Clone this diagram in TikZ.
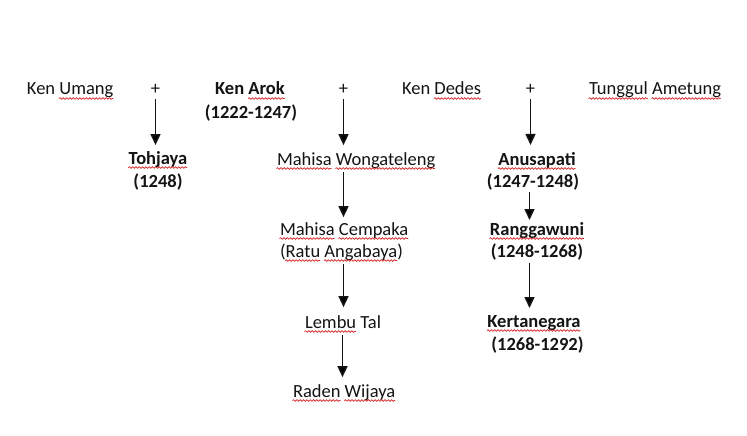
\documentclass[tikz,border=0pt]{standalone}
\usepackage{fontspec}
\setmainfont{Carlito}
\usetikzlibrary{arrows.meta,decorations.pathmorphing,calc}
\definecolor{sqred}{RGB}{215,35,35}
\definecolor{txt}{RGB}{20,20,20}
\newsavebox\sqbox
\newlength\sqw
\tikzset{
 sqline/.style={draw=sqred,line width=0.7pt,line cap=round,decorate,decoration={snake,amplitude=0.8pt,segment length=3.3pt}},
 lbl/.style={inner sep=0pt,outer sep=0pt,font=\fontsize{18.5}{22.5}\selectfont,text=txt},
 blbl/.style={lbl,font=\fontsize{18.5}{22.5}\selectfont\bfseries},
 arr/.style={draw=txt,line width=1.5pt,-{Triangle[width=10pt,length=11pt]}},
}
\newcommand\sq[1]{\sbox\sqbox{#1}\setlength\sqw{\wd\sqbox}\usebox\sqbox\llap{\smash{\tikz[baseline=0pt]\draw[sqline](0pt,-3.5pt)--(\the\sqw,-3.5pt);}}}
\begin{document}
\begin{tikzpicture}[x=1pt,y=-1pt]
\useasboundingbox[fill=white] (0,0) rectangle (747,436);
% top row
\node[lbl,anchor=base west] (kum) at (27,95) {Ken \sq{Umang}};
\node[lbl,anchor=base] (p1) at (155.5,95) {+};
\node[blbl,anchor=base] (karok) at (250,95) {Ken \sq{Arok}};
\node[blbl,anchor=base] (karokd) at (251,118) {(1222-1247)};
\node[lbl,anchor=base] (p2) at (343.5,95) {+};
\node[lbl,anchor=base west] (kded) at (402,95) {Ken \sq{Dedes}};
\node[lbl,anchor=base] (p3) at (530.5,95) {+};
\node[lbl,anchor=base west] (tung) at (589,95) {\sq{Tunggul} \sq{Ametung}};
% second row
\node[blbl,anchor=base] (toh) at (158,164) {\sq{Tohjaya}};
\node[blbl,anchor=base] (tohd) at (158,187) {(1248)};
\node[lbl,anchor=base west] (mw) at (277,165) {\sq{Mahisa} \sq{Wongateleng}};
\node[blbl,anchor=base] (anu) at (537,165) {\sq{Anusapati}};
\node[blbl,anchor=base] (anud) at (533,187) {(1247-1248)};
% third row
\node[lbl,anchor=base west] (mc) at (280,235) {\sq{Mahisa} \sq{Cempaka}};
\node[lbl,anchor=base west] (mcd) at (280,257) {(\sq{Ratu} \sq{Angabaya})};
\node[blbl,anchor=base] (rang) at (537,235) {\sq{Ranggawuni}};
\node[blbl,anchor=base] (rangd) at (537,257) {(1248-1268)};
% fourth row
\node[lbl,anchor=base west] (lt) at (305,328) {\sq{Lembu} Tal};
\node[blbl,anchor=base] (kert) at (534,327) {\sq{Kertanegara}};
\node[blbl,anchor=base] (kertd) at (537.5,350) {(1268-1292)};
% fifth row
\node[lbl,anchor=base west] (rw) at (293,397) {\sq{Raden} \sq{Wijaya}};
% arrows
\draw[arr] ($(p1.south)+(0,4)$) -- ($(toh.north -| p1.south)+(0,-6)$);
\draw[arr] ($(p2.south)+(0,4)$) -- ($(mw.north -| p2.south)+(0,-7)$);
\draw[arr] ($(mw.south -| p2.south)+(0,4)$) -- ($(mc.north -| p2.south)+(0,-5)$);
\draw[arr] ($(mcd.south -| p2.south)+(0,4)$) -- ($(lt.north -| p2.south)+(0,-8)$);
\draw[arr] ($(lt.south -| p2.south)+(-1,7)$) -- ($(rw.north -| p2.south)+(-1,-7)$);
\draw[arr] ($(p3.south)+(0,4)$) -- ($(anu.north -| p3.south)+(0,-7)$);
\draw[arr] ($(anud.south -| p3.south)+(-1,2)$) -- ($(rang.north -| p3.south)+(-1,-2)$);
\draw[arr] ($(rangd.south -| p3.south)+(-1,3)$) -- ($(kert.north -| p3.south)+(-1,-7)$);
\end{tikzpicture}
\end{document}
